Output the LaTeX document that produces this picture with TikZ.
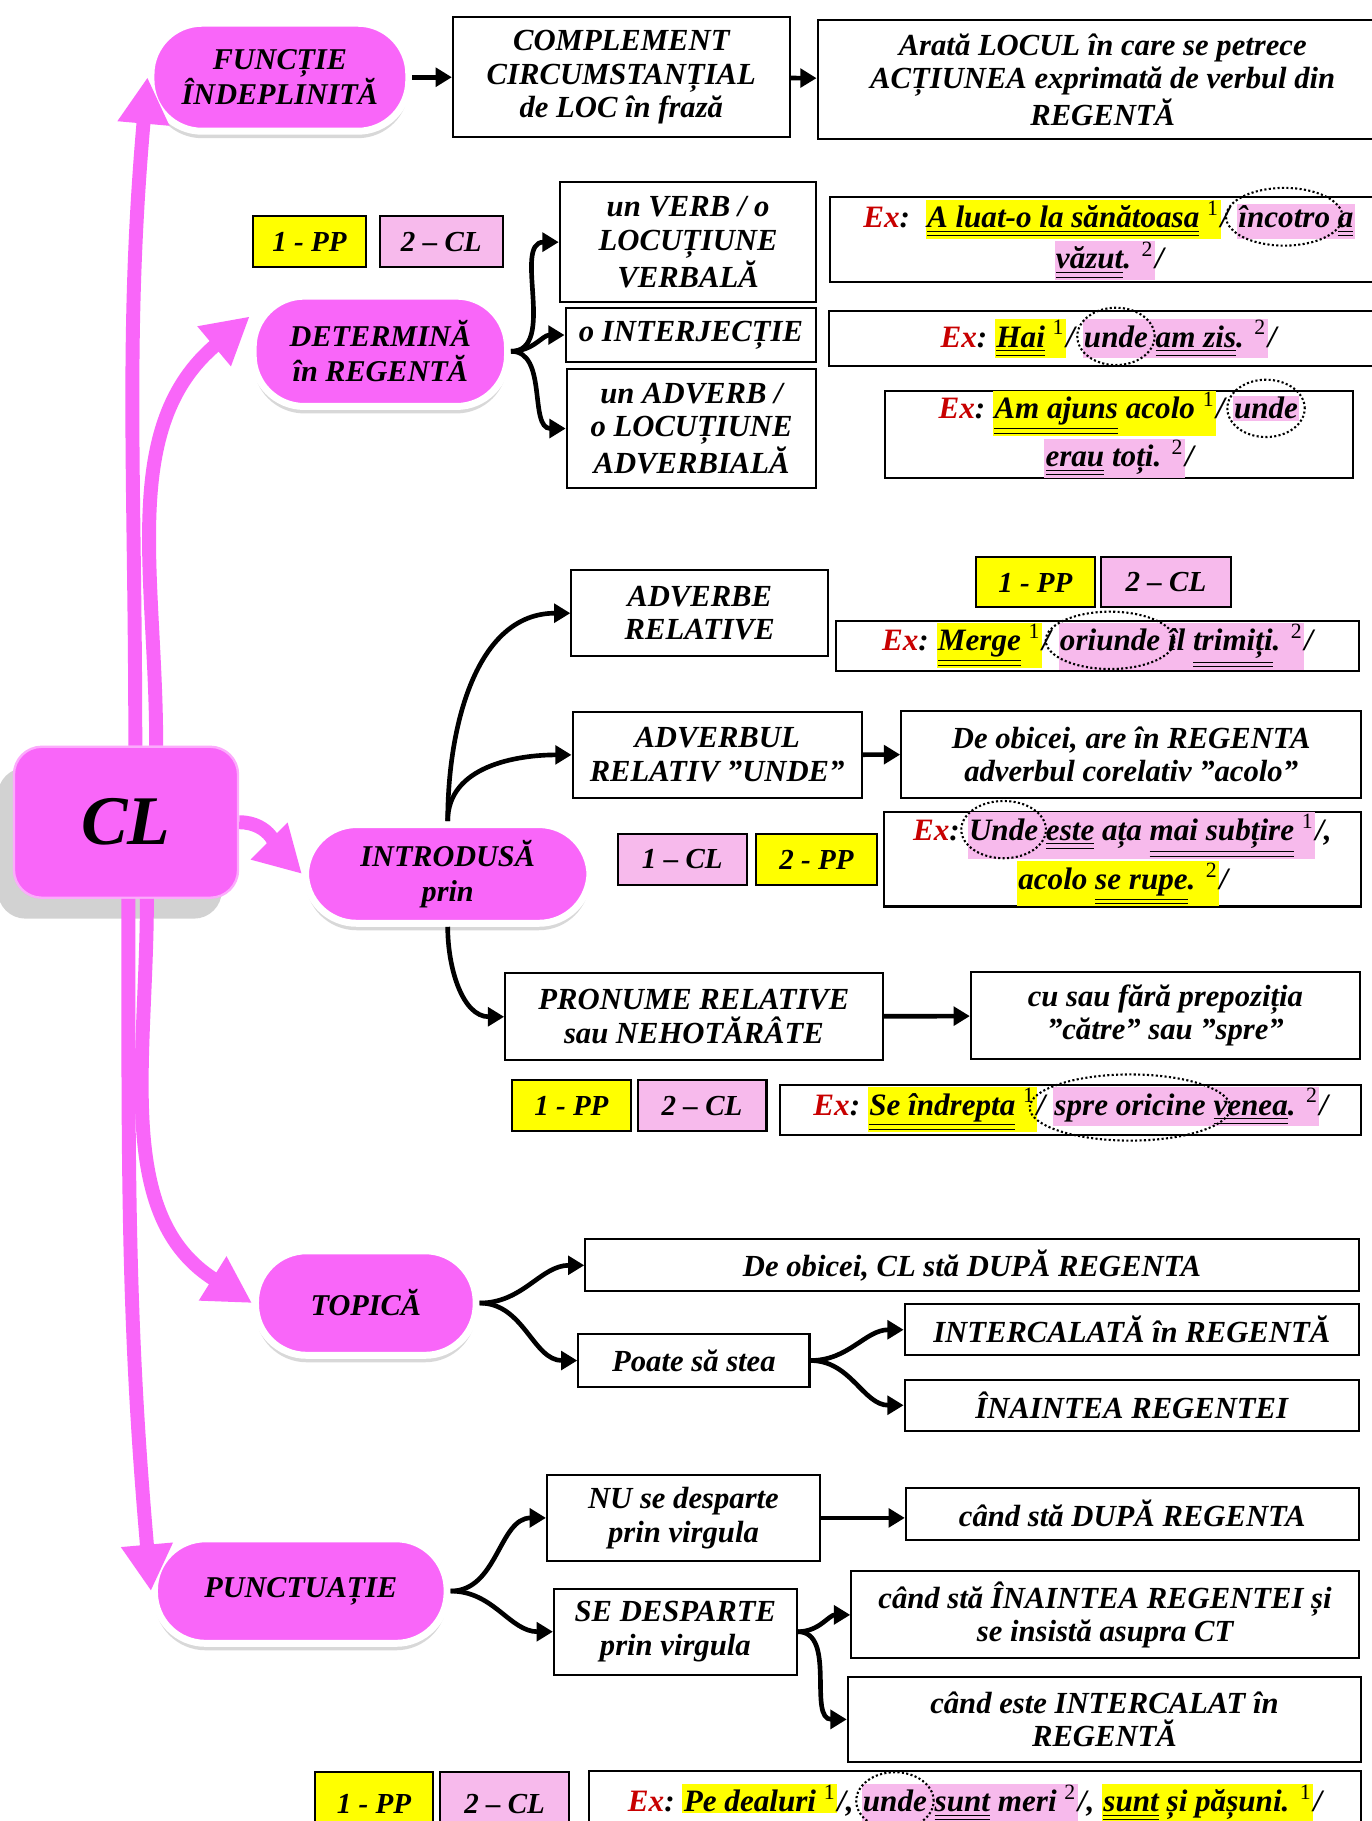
\documentclass[tikz,border=0pt]{standalone}
\usepackage{fontspec}
\setmainfont{Liberation Serif}
\usetikzlibrary{arrows.meta,positioning,shadows,shapes.geometric}
\definecolor{pillpink}{RGB}{249,102,249}
\definecolor{tagpink}{RGB}{247,186,236}
\definecolor{tagyellow}{RGB}{255,255,0}
\definecolor{exred}{RGB}{200,0,0}

\newcommand\nr[1]{{\normalfont\textsuperscript{#1}}}
\newcommand\hy[1]{{\fboxsep=0.6pt\colorbox{tagyellow}{#1}}}
\newcommand\hp[1]{{\fboxsep=0.6pt\colorbox{tagpink}{#1}}}
\newcommand\dbl[1]{$\underline{\underline{\hbox{#1}}}$}
\newcommand\exw{\textcolor{exred}{Ex}:}
\newcommand\cerc[1]{\tikz[baseline=(w.base)]{\node[bare] (w) {#1};
  \node[bare, overlay, ellipse, draw, densely dotted, line width=0.9pt, inner xsep=-2pt, inner ysep=4pt] (we) at (w.center) {\phantom{#1}};}}

\tikzset{
  % span=left/top/right/bottom, in pixels of the sheet (y going down)
  span/.style args={#1/#2/#3/#4}{at={({(#1+#3)/2},{-(#2+#4)/2})},
    minimum width={(#3-#1)*0.5pt}, minimum height={(#4-#2)*0.5pt}},
  bare/.style={rectangle, draw=none, fill=none, inner sep=0pt, outer sep=0pt,
    minimum width=0pt, minimum height=0pt, rounded corners=0pt},
  box/.style={draw, line width=0.9pt, fill=white, inner sep=0pt, align=center,
    font=\bfseries\itshape\fontsize{13.2}{14.5}\selectfont},
  exbox/.style={box, font=\bfseries\itshape\fontsize{13.4}{14}\selectfont},
  tagbox/.style={box, font=\bfseries\itshape\fontsize{12.5}{14}\selectfont},
  pill/.style={rectangle, rounded corners=22pt, fill=pillpink, draw=white, line width=3pt,
    drop shadow={shadow xshift=0pt, shadow yshift=-3pt, opacity=0.3},
    inner sep=0pt, align=center, font=\bfseries\itshape\fontsize{13}{15}\selectfont},
  clbox/.style={rectangle, rounded corners=12pt, fill=pillpink, draw=pillpink!55!white, line width=1pt,
    drop shadow={shadow xshift=-7pt, shadow yshift=-9pt, opacity=0.35},
    inner sep=0pt, font=\bfseries\itshape\fontsize{30}{30}\selectfont},
  conn/.style={line width=2pt, -{Triangle[length=7pt, width=8pt]}},
  pinkconn/.style={draw=pillpink, line width=6pt, -{Triangle[length=20pt, width=21pt]}},
}

\begin{document}
\begin{tikzpicture}[x=0.5pt, y=0.5pt]
  \fill[white] (0,0) rectangle (1181,-1568);
  \useasboundingbox (0,0) rectangle (1181,-1568);

  % central node and the five pills
  \node[clbox, span=12/643/205/773] (cl) {CL};
  \node[pill, span=130/20/352/113] (fun) {FUNCȚIE\\ÎNDEPLINITĂ};
  \node[pill, span=218/255/437/350] (det) {DETERMINĂ\\în REGENTĂ};
  \node[pill, span=263/710/508/795] (intro) {INTRODUSĂ\\prin};
  \node[pill, span=220/1077/410/1167] (topica) {TOPICĂ};
  \node[pill, span=133/1325/385/1415] (punct) {PUNCTUAȚIE};

  % function
  \node[box, span=390/15/680/118] (compl) {COMPLEMENT\\CIRCUMSTANȚIAL\\de LOC în frază};
  \node[box, span=704/17/1195/120] (arata) {Arată LOCUL în care se petrece\\ACȚIUNEA exprimată de verbul din\\REGENTĂ};

  % regent
  \node[tagbox, fill=tagyellow, span=218/186/315/230] (dpp) {1 - PP};
  \node[tagbox, fill=tagpink, span=327/186/433/230] (dcl) {2 – CL};
  \node[box, span=482/157/703/260] (vb) {un VERB / o\\LOCUȚIUNE\\VERBALĂ};
  \node[box, span=487/265/703/312] (interj) {o INTERJECȚIE};
  \node[box, span=488/318/703/420] (adv) {un ADVERB /\\o LOCUȚIUNE\\ADVERBIALĂ};
  \node[exbox, span=715/170/1195/243] (ex1) {\exw\ \ \hy{\dbl{A luat-o la sănătoasa} \nr{1}}/ \hp{\cerc{încotro} \dbl{a}}\\\hp{\dbl{văzut}. \nr{2}}/};
  \node[exbox, span=714/268/1195/315] (ex2) {\exw\ \hy{\dbl{Hai} \nr{1}}/ \hp{\cerc{unde} \dbl{am zis}. \nr{2}}/};
  \node[exbox, span=762/338/1165/410] (ex3) {\exw\ \hy{\dbl{Am ajuns} acolo \nr{1}}/ \hp{\cerc{unde}}\\\hp{\dbl{erau} toți. \nr{2}}/};

  % introduced by
  \node[box, span=492/491/713/565] (advrel) {ADVERBE\\RELATIVE};
  \node[tagbox, fill=tagyellow, span=840/480/943/523] (ipp) {1 - PP};
  \node[tagbox, fill=tagpink, span=948/480/1060/523] (icl) {2 – CL};
  \node[exbox, span=720/535/1170/578] (ex4) {\exw\ \hy{\dbl{Merge} \nr{1}}/ \hp{\cerc{oriunde} îl \dbl{trimiți}. \nr{2}}/};
  \node[box, span=493/613/742/687] (unde) {ADVERBUL\\RELATIV ”UNDE”};
  \node[box, span=776/612/1172/687] (coreal) {De obicei, are în REGENTA\\adverbul corelativ ”acolo”};
  \node[tagbox, fill=tagpink, span=532/718/643/762] (ucl) {1 – CL};
  \node[tagbox, fill=tagyellow, span=651/718/755/762] (upp) {2 - PP};
  \node[exbox, span=761/704/1172/776] (ex5) {\exw\ \hp{\cerc{Unde} \dbl{este} ața \dbl{mai subțire} \nr{1}}/,\\\hy{acolo \dbl{se rupe}. \nr{2}}/};
  \node[box, span=435/838/760/913] (pron) {PRONUME RELATIVE\\sau NEHOTĂRÂTE};
  \node[box, span=836/837/1171/912] (prep) {cu sau fără prepoziția\\”către” sau ”spre”};
  \node[tagbox, fill=tagyellow, span=441/930/543/974] (ppp) {1 - PP};
  \node[tagbox, fill=tagpink, span=549/930/660/974] (pcl) {2 – CL};
  \node[exbox, span=672/934/1172/977] (ex6) {\exw\ \hy{\dbl{Se îndrepta} \nr{1}}/ \hp{\cerc{spre oricine} \dbl{venea}. \nr{2}}/};

  % word order
  \node[box, span=504/1067/1170/1112] (dupa) {De obicei, CL stă DUPĂ REGENTA};
  \node[box, span=498/1149/697/1194] (poate) {Poate să stea};
  \node[box, span=779/1123/1170/1167] (interc) {INTERCALATĂ în REGENTĂ};
  \node[box, span=779/1188/1170/1232] (inainte) {ÎNAINTEA REGENTEI};

  % punctuation
  \node[box, span=471/1270/706/1344] (nudesp) {NU se desparte\\prin virgula};
  \node[box, span=477/1368/686/1442] (sedesp) {SE DESPARTE\\prin virgula};
  \node[box, span=780/1281/1170/1326] (cdupa) {când stă DUPĂ REGENTA};
  \node[box, span=733/1353/1170/1428] (cinainte) {când stă ÎNAINTEA REGENTEI și\\se insistă asupra CT};
  \node[box, span=730/1444/1172/1517] (cinterc) {când este INTERCALAT în\\REGENTĂ};
  \node[tagbox, fill=tagyellow, span=271/1526/373/1580] (tpp) {1 - PP};
  \node[tagbox, fill=tagpink, span=379/1526/490/1580] (tcl) {2 – CL};
  \node[exbox, span=507/1525/1172/1580] (ex7) {\exw\ \hy{Pe dealuri \nr{1}}/, \hp{\cerc{unde} \dbl{sunt} meri \nr{2}}/, \hy{\dbl{sunt} și pășuni. \nr{1}}/};

  % pink arrows out of CL
  \draw[pinkconn] ([xshift=4pt]cl.north) to[out=90, in=-95] (fun.west);
  \draw[pinkconn] ([xshift=13pt]cl.north) to[out=90, in=-140] ([yshift=15pt]det.west);
  \draw[pinkconn] (cl.east) to[out=0, in=135] (intro.west);
  \draw[pinkconn] ([xshift=9pt]cl.south) to[out=-90, in=148] (topica.west);
  \draw[pinkconn] ([xshift=1pt]cl.south) to[out=-90, in=95] (punct.west);

  % black connectors
  \draw[conn] (fun) -- (compl);
  \draw[conn] (compl) -- (arata);
  \foreach \t in {vb, interj, adv}
    \draw[conn] (det.east) to[out=0, in=180] (\t.west);
  \draw[conn] (intro.north) to[out=90, in=180] (advrel.west);
  \draw[conn] (intro.north) to[out=90, in=180] (unde.west);
  \draw[conn] (intro.south) to[out=-90, in=180] (pron.west);
  \draw[conn] (unde) -- (coreal);
  \draw[conn] (pron) -- (prep);
  \draw[conn] (topica.east) to[out=0, in=180] (dupa.west);
  \draw[conn] (topica.east) to[out=0, in=180] (poate.west);
  \draw[conn] (poate.east) to[out=0, in=180] (interc.west);
  \draw[conn] (poate.east) to[out=0, in=180] (inainte.west);
  \draw[conn] (punct.east) to[out=0, in=180] (nudesp.west);
  \draw[conn] (punct.east) to[out=0, in=180] (sedesp.west);
  \draw[conn] (nudesp.east) -- (cdupa.west |- nudesp.east);
  \draw[conn] (sedesp.east) to[out=0, in=180] (cinainte.west);
  \draw[conn] (sedesp.east) to[out=0, in=180] (cinterc.west);
\end{tikzpicture}
\end{document}
